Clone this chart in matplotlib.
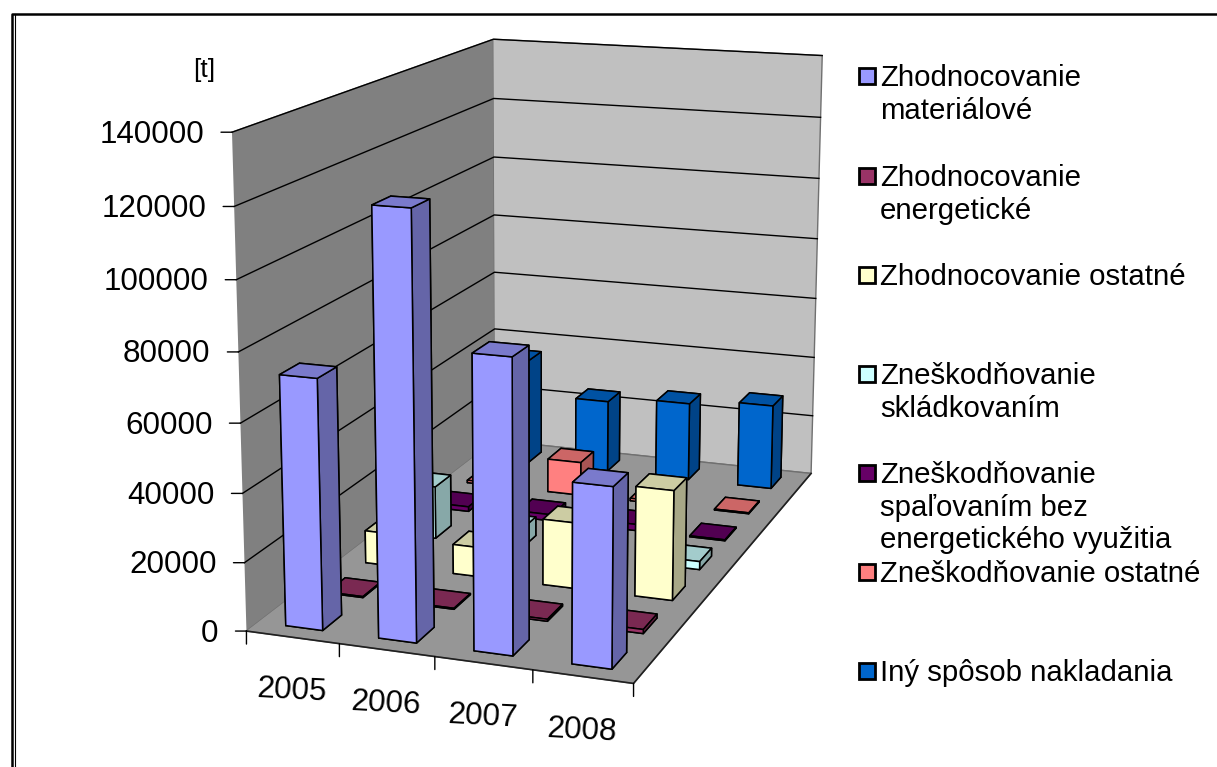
import numpy as np
import matplotlib
matplotlib.use('Agg')
import matplotlib.pyplot as plt
from matplotlib.lines import Line2D
from matplotlib.patches import Rectangle
from matplotlib.colors import to_rgb
from mpl_toolkits.mplot3d import proj3d

plt.rcParams['font.family'] = ['Liberation Sans', 'DejaVu Sans']

years = ['2005', '2006', '2007', '2008']
z_ticks = [0, 20000, 40000, 60000, 80000, 100000, 120000, 140000]
mat = [72500, 121500, 83600, 51000]
ene = [300, 300, 600, 1200]
ost = [10000, 9000, 20000, 33000]
skl = [16500, 6000, 3000, 2500]
spa = [1500, 2000, 2000, 300]
zne = [800, 11000, 800, 300]
iny = [35500, 24000, 26000, 28000]
series = [mat, ene, ost, skl, spa, zne, iny]
colors = ['#9999FF', '#993366', '#FFFFCC', '#CCFFFF', '#660066', '#FF8080', '#0066CC']
legend_labels = ['Zhodnocovanie\nmateriálové', 'Zhodnocovanie\nenergetické', 'Zhodnocovanie ostatné',
                 'Zneškodňovanie\nskládkovaním', 'Zneškodňovanie\nspaľovaním bez\nenergetického využitia',
                 'Zneškodňovanie ostatné', 'Iný spôsob nakladania']
legend_y = [76, 176, 275, 374, 473, 572, 671]

W, H = 1217, 767
fig = plt.figure(figsize=(W / 100, H / 100), dpi=100)
ax = fig.add_subplot(111, projection='3d', computed_zorder=False)
# keep the non square box, the picture is stretched
ax.apply_aspect = lambda position=None: None
ax.set_position([0.0950, -0.0030, 0.7032, 1.1342])
ax.view_init(elev=13.875, azim=-70.562, roll=-0.094)
ax.set_proj_type('persp', focal_length=0.545)
ax.set_box_aspect((1, 1.725, 1.222))
ax.set_xlim(0, 4)
ax.set_ylim(0, 7)
ax.set_zlim(0, 140000)
ax.patch.set_visible(False)
ax.grid(False)
ax.set_xticks([])
ax.set_yticks([])
ax.set_zticks([])
for axis, c in ((ax.xaxis, '#808080'), (ax.yaxis, '#C0C0C0'), (ax.zaxis, '#969696')):
    axis.set_pane_color(c)
    axis.pane.set_edgecolor('#707070')
    axis.line.set_color((0, 0, 0, 0))


def to2d(x, y, z):
    xd, yd, _ = proj3d.proj_transform(x, y, z, ax.get_proj())
    return float(xd), float(yd)


# gridlines on the two walls
for v in z_ticks[1:]:
    ax.plot([0, 0, 4], [0, 7, 7], [v, v, v], color='black', lw=1, zorder=1)
# front and right edge of the floor
ax.plot([0, 4, 4], [0, 0, 7], [0, 0, 0], color='#202020', lw=1.2, zorder=1)

# bars, back row first
zo = 2
for j in range(len(series) - 1, -1, -1):
    base = to_rgb(colors[j])
    front = base
    side = tuple(c * 0.66 for c in base)
    top = tuple(c * 0.8 for c in base)
    for i in range(len(years)):
        face = [side, top, front, side, side, side]
        ax.bar3d(i + 0.3, j + 0.27, 0, 0.4, 0.46, series[j][i], color=face, edgecolor='black',
                 linewidth=1.1, shade=False, zorder=zo)
        zo += 1

# value axis
for v in z_ticks:
    xy = to2d(0, 0, v)
    ax.annotate('', xy=xy, xytext=(-11, 0), textcoords='offset pixels', annotation_clip=False,
                arrowprops=dict(arrowstyle='-', color='black', lw=1, shrinkA=0, shrinkB=0))
    ax.annotate(str(v), xy=xy, xytext=(-28, -2.5), textcoords='offset pixels', ha='right', va='center',
                fontsize=22.6, annotation_clip=False)
ax.annotate('[t]', xy=to2d(0, 0, 140000), xytext=(-28, 62), textcoords='offset pixels', ha='center', va='center',
            fontsize=19, annotation_clip=False)

# category axis
for i in range(len(years) + 1):
    ax.annotate('', xy=to2d(i, 0, 0), xytext=(0, -13), textcoords='offset pixels', annotation_clip=False,
                arrowprops=dict(arrowstyle='-', color='black', lw=1, shrinkA=0, shrinkB=0))
for i, y in enumerate(years):
    ax.annotate(y, xy=to2d(i + 0.5, 0, 0), xytext=(-1, -54), textcoords='offset pixels', ha='center', va='center',
                fontsize=22.6, rotation=-3, annotation_clip=False)

# legend
for lab, c, y in zip(legend_labels, colors, legend_y):
    fig.add_artist(Rectangle((859 / W, 1 - (y + 8) / H), 16 / W, 16 / H, transform=fig.transFigure,
                             facecolor=c, edgecolor='black', lw=2))
    fig.text(880 / W, 1 - (y - 12) / H, lab, fontsize=21.15, va='top', ha='left', linespacing=1.21)

# frame
fig.add_artist(Line2D([11.5 / W, 11.5 / W, 1], [0, 1 - 14 / H, 1 - 14 / H], color='black', lw=1.8))
fig.add_artist(Line2D([15 / W, 15 / W], [0, 1 - 14 / H], color='black', lw=0.8))

fig.savefig('out.png', dpi=100)
